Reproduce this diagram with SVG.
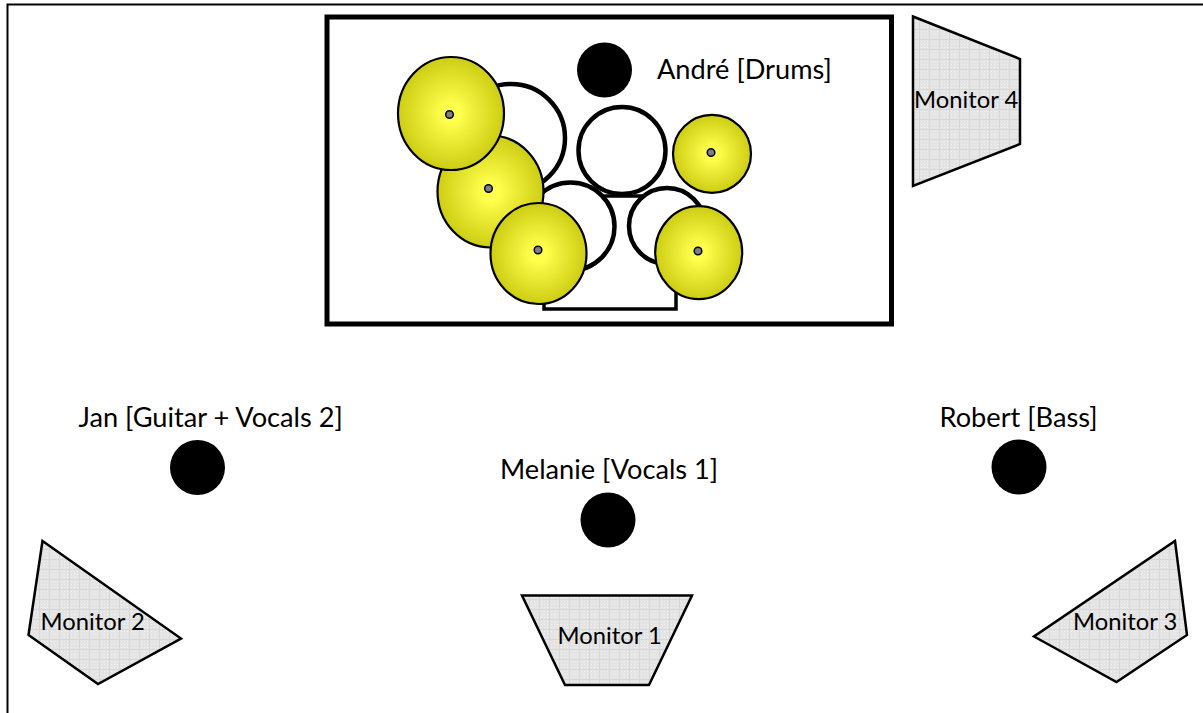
<svg xmlns="http://www.w3.org/2000/svg" width="1203" height="713" viewBox="0 0 1203 713">
<style>
text{font-family:"Lato","Carlito","Liberation Sans",sans-serif;fill:#000}
.l{font-size:27.2px}
.m{font-size:23.8px}
.p{fill:#000}
.mon{fill:url(#grid);stroke:#000;stroke-width:2.500;stroke-linejoin:miter}
.drum{fill:#fff;stroke:#000;stroke-width:4.500}
.cym{fill:url(#brass);stroke:#000;stroke-width:2.200}
.dot{fill:#808080;stroke:#000;stroke-width:1.500}
</style>
<defs>
<radialGradient id="brass"><stop offset="0" stop-color="#ffff4d"/><stop offset="0.15" stop-color="#ffff4d"/><stop offset="1" stop-color="#cdcd14"/></radialGradient>
<pattern id="grid" width="10" height="10" patternUnits="userSpaceOnUse"><rect width="10" height="10" fill="#e4e4e4"/><path d="M1 1h1v1h-1zM4 1h1v1h-1zM7 1h1v1h-1zM1 4h1v1h-1zM4 4h1v1h-1zM7 4h1v1h-1zM1 7h1v1h-1zM4 7h1v1h-1zM7 7h1v1h-1z" fill="#f0f0f0"/><path d="M0 9.500H10M9.500 0V10" stroke="#d8d8d8" stroke-width="1"/></pattern>
</defs>
<rect width="1203" height="713" fill="#fff"/>
<path id="room" d="M7.500 713V4.500H1203" fill="none" stroke="#000" stroke-width="2"/>
<g id="drum-riser"><rect x="327" y="17" width="564.500" height="307" fill="#fff" stroke="#000" stroke-width="5"/></g>
<g id="drumkit">
<rect x="544" y="196" width="132" height="113" fill="#fff" stroke="#000" stroke-width="3.500"/>
<circle class="drum" cx="511" cy="138" r="54"/>
<circle class="drum" cx="622" cy="150.500" r="43.500"/>
<circle class="drum" cx="570.500" cy="226.500" r="44"/>
<circle class="drum" cx="667" cy="226" r="38"/>
<ellipse class="cym" cx="490.500" cy="191.500" rx="53" ry="56"/><circle class="dot" cx="488.500" cy="188.500" r="3.800"/>
<ellipse class="cym" cx="451" cy="113.500" rx="53" ry="56.500"/><circle class="dot" cx="449.500" cy="114.500" r="3.800"/>
<ellipse class="cym" cx="538.500" cy="253.500" rx="48" ry="50.500"/><circle class="dot" cx="538" cy="250" r="3.800"/>
<ellipse class="cym" cx="698.700" cy="252.700" rx="43.500" ry="46.500"/><circle class="dot" cx="698" cy="251" r="3.800"/>
<circle class="cym" cx="712" cy="153.800" r="39"/><circle class="dot" cx="711" cy="152.500" r="3.800"/>
</g>
<g id="andre"><circle class="p" cx="604.500" cy="70" r="27.500"/><text class="l" x="657" y="79">André [Drums]</text></g>
<g id="jan"><circle class="p" cx="197.500" cy="467.500" r="27.500"/><text class="l" x="78.500" y="427">Jan [Guitar + Vocals 2]</text></g>
<g id="melanie"><circle class="p" cx="608" cy="520" r="27.500"/><text class="l" x="500" y="479">Melanie [Vocals 1]</text></g>
<g id="robert"><circle class="p" cx="1019" cy="467" r="27.500"/><text class="l" x="939.500" y="427">Robert [Bass]</text></g>
<g id="monitor1"><polygon class="mon" points="522,595.500 692,595.500 649,685 565,685"/><text class="m" x="557.500" y="644">Monitor 1</text></g>
<g id="monitor2"><polygon class="mon" points="42.500,541 181,638.500 98,684 28.500,635"/><text class="m" x="40.500" y="630">Monitor 2</text></g>
<g id="monitor3"><polygon class="mon" points="1175,541 1187,635 1116.500,682 1034,636.500"/><text class="m" x="1073" y="630">Monitor 3</text></g>
<g id="monitor4"><polygon class="mon" points="913,16.500 1020,59 1020,144 913,186"/><text class="m" x="914" y="108">Monitor 4</text></g>
</svg>
